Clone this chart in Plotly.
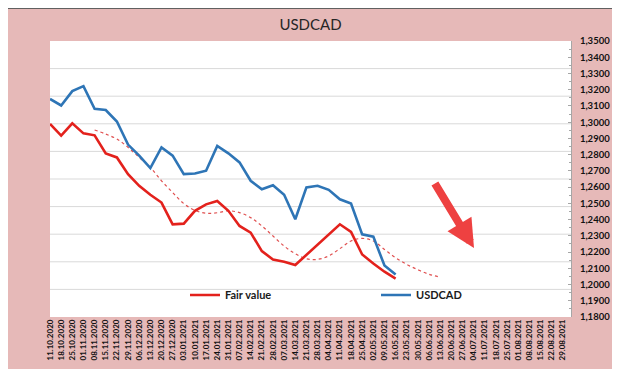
import plotly.graph_objects as go

dates = ["11.10.2020", "18.10.2020", "25.10.2020", "01.11.2020", "08.11.2020", "15.11.2020",
         "22.11.2020", "29.11.2020", "06.12.2020", "13.12.2020", "20.12.2020", "27.12.2020",
         "03.01.2021", "10.01.2021", "17.01.2021", "24.01.2021", "31.01.2021", "07.02.2021",
         "14.02.2021", "21.02.2021", "28.02.2021", "07.03.2021", "14.03.2021", "21.03.2021",
         "28.03.2021", "04.04.2021", "11.04.2021", "18.04.2021", "25.04.2021", "02.05.2021",
         "09.05.2021", "16.05.2021", "23.05.2021", "30.05.2021", "06.06.2021", "13.06.2021",
         "20.06.2021", "27.06.2021", "04.07.2021", "11.07.2021", "18.07.2021", "25.07.2021",
         "01.08.2021", "08.08.2021", "15.08.2021", "22.08.2021", "29.08.2021"]

usdcad = [1.3143, 1.3103, 1.3191, 1.3222, 1.3082, 1.3075, 1.3004, 1.2862, 1.2794, 1.2717,
          1.2845, 1.2794, 1.2680, 1.2684, 1.2701, 1.2854, 1.2808, 1.2752, 1.2639, 1.2587,
          1.2612, 1.2553, 1.2402, 1.2598, 1.2608, 1.2583, 1.2525, 1.2499, 1.2309, 1.2295,
          1.2117, 1.2062]

fair_value = [1.2989, 1.2917, 1.2993, 1.2931, 1.2919, 1.2808, 1.2783, 1.2680, 1.2608, 1.2553,
              1.2505, 1.2371, 1.2375, 1.2454, 1.2494, 1.2515, 1.2454, 1.2361, 1.2320, 1.2206,
              1.2154, 1.2140, 1.2120, 1.2182, 1.2242, 1.2305, 1.2371, 1.2324, 1.2185, 1.2130,
              1.2079, 1.2037]

# smoothed (dotted) fair-value trend, starting at 08.11.2020
trend_start = 4
trend = [1.2952, 1.2927, 1.2896, 1.2845, 1.2783, 1.2721, 1.2639, 1.2567, 1.2499, 1.2457,
         1.2439, 1.2442, 1.2454, 1.2443, 1.2412, 1.2361, 1.2299, 1.2237, 1.2190, 1.2159,
         1.2155, 1.2176, 1.2221, 1.2268, 1.2284, 1.2268, 1.2216, 1.2165, 1.2124, 1.2091,
         1.2063, 1.2046]

BLUE = "#2E75B6"
RED = "#E3211C"
PINK = "#E6B9B8"
FONT = "Lato"

idx = list(range(len(dates)))

fig = go.Figure()
fig.add_trace(go.Scatter(
    x=idx[trend_start:trend_start + len(trend)], y=trend, mode="lines",
    line=dict(color="#E05050", width=1.2, dash="dot", shape="spline"),
    showlegend=False, hoverinfo="skip"))
fig.add_trace(go.Scatter(
    x=idx[:len(fair_value)], y=fair_value, mode="lines", name="Fair value",
    line=dict(color=RED, width=2.6)))
fig.add_trace(go.Scatter(
    x=idx[:len(usdcad)], y=usdcad, mode="lines", name="USDCAD",
    line=dict(color=BLUE, width=2.6)))

shapes = []
for k in range(1, 10):
    shapes.append(dict(type="line", xref="paper", yref="paper", x0=0, x1=1, y0=k / 10, y1=k / 10,
                       line=dict(color="#D9D9D9", width=1), layer="below"))
# outer frame
shapes.append(dict(type="rect", xref="paper", yref="paper",
                   x0=-42.5 / 521, x1=(620 - 42 - 0.5) / 521,
                   y0=(309 - 366.5) / 276, y1=(309 - 0.5) / 276,
                   line=dict(color="#606060", width=1), layer="above"))

fig.update_layout(
    width=620, height=369,
    margin=dict(l=42, r=57, t=33, b=60),
    paper_bgcolor=PINK, plot_bgcolor="white",
    separators=",.",
    font=dict(family=FONT, color="#1A1A1A"),
    title=dict(text="USDCAD", x=0.5, xref="paper", xanchor="center",
               y=1 - 17 / 369, yref="container", yanchor="middle",
               font=dict(family=FONT, size=15, color="#262626")),
    xaxis=dict(range=[0, 46.73], tickmode="array", tickvals=idx, ticktext=dates,
               tickangle=-90, showgrid=False, zeroline=False, showline=False,
               ticks="", tickfont=dict(family=FONT, size=8, weight="bold", color="#111111")),
    yaxis=dict(range=[1.18, 1.35], side="right", dtick=0.01, tick0=1.18, tickformat=".4f",
               showgrid=False, zeroline=False, showline=True, linecolor="#A6A6A6", linewidth=1,
               ticks="inside", ticklen=3, tickcolor="#A6A6A6",
               minor=dict(dtick=0.005, ticks="inside", ticklen=2, tickcolor="#A6A6A6"),
               ticklabelstandoff=6,
               tickfont=dict(family=FONT, size=9.5, weight="bold", color="#111111")),
    legend=dict(orientation="h", x=(177 - 42) / 521, xanchor="left",
                y=(309 - 287) / 276, yanchor="middle",
                bgcolor="rgba(0,0,0,0)", entrywidth=146, entrywidthmode="pixels",
                font=dict(family=FONT, size=11, weight="bold", color="#1A1A1A")),
    shapes=shapes,
    annotations=[dict(xref="paper", yref="paper",
                      x=(466 - 42) / 521, y=(309 - 240) / 276,
                      ax=-40, ay=-66, axref="pixel", ayref="pixel",
                      showarrow=True, arrowhead=2, arrowsize=0.7, arrowwidth=8,
                      arrowcolor="#EE4141", text="")],
)

fig.write_html("out.html")
